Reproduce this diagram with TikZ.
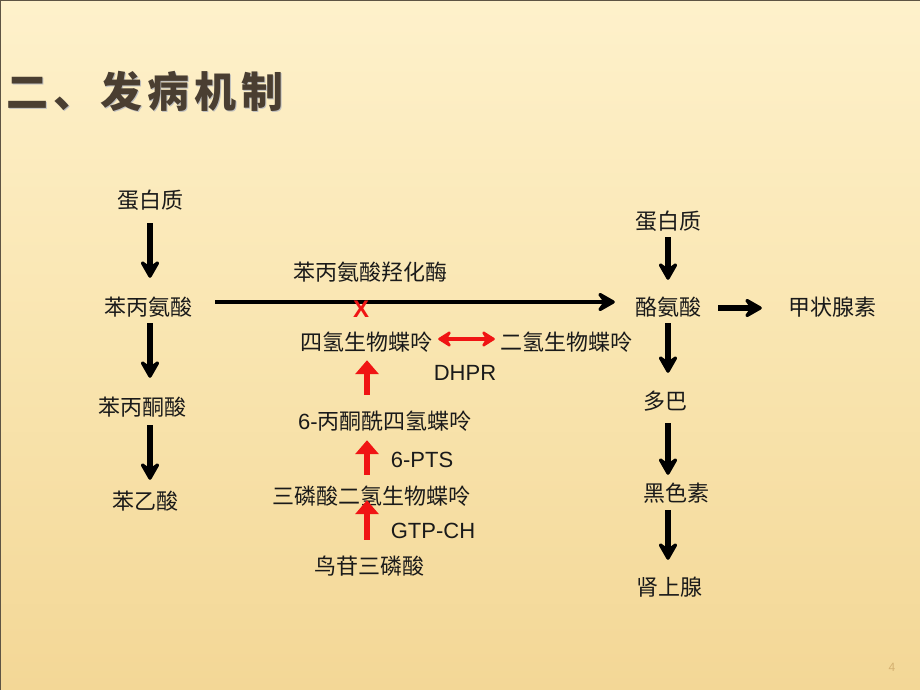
\documentclass[tikz,border=0pt]{standalone}
\usepackage{fontspec}
\usetikzlibrary{arrows.meta,calc}
\newfontfamily\cjk{Noto Sans CJK SC}
\newfontfamily\lat{Liberation Sans}
\definecolor{bgtop}{HTML}{FEF1CB}
\definecolor{bgmid}{HTML}{F9E5B0}
\definecolor{bgbot}{HTML}{F3D796}
\definecolor{titlec}{HTML}{4A3E31}
\definecolor{redc}{HTML}{F01414}
\definecolor{txtc}{HTML}{1A1A1A}
\definecolor{framec}{HTML}{5E5444}
\definecolor{pagec}{HTML}{D4B070}
\tikzset{
  lbl/.style={font=\cjk\fontsize{22}{22}\selectfont, text=txtc, inner sep=0pt, text height=18pt, text depth=4pt},
  latl/.style={font=\lat\fontsize{22}{22}\selectfont, text=txtc, inner sep=0pt, text height=16pt, text depth=0pt},
  chev/.tip={Stealth[length=22pt,width=25pt,inset=9pt,round]},
  chevs/.tip={Stealth[length=16pt,width=20pt,inset=6pt,round]},
  blkarrow/.style={draw=black, line width=5.5pt, -chev},
  longarrow/.style={draw=black, line width=4.5pt, -chev},
  redup/.style={draw=redc, line width=6pt, -{Triangle[length=14pt,width=23pt]}},
  reddbl/.style={draw=redc, line width=4.5pt, chevs-chevs}
}
\begin{document}
\begin{tikzpicture}[x=1pt,y=-1pt]
\useasboundingbox (0,0) rectangle (920,690);
\shade[top color=bgtop, bottom color=bgbot, middle color=bgmid] (0,0) rectangle (920,690);
\draw[framec, line width=2pt] (0,690) -- (0,0) -- (920,0);
\draw[framec!60, line width=1pt] (920,0) -- (920,690);

% title
\node[anchor=west, inner sep=0pt, text=gray!50, font=\cjk\bfseries\fontsize{42}{42}\selectfont] at (7.5,92.5) {二\kern5pt 、\kern5pt 发\kern5pt 病\kern5pt 机\kern5pt 制};
\node (title) [anchor=west, inner sep=0pt, text=titlec, font=\cjk\bfseries\fontsize{42}{42}\selectfont] at (6,91) {二\kern5pt 、\kern5pt 发\kern5pt 病\kern5pt 机\kern5pt 制};

% helper coordinates
\coordinate (lx) at (150,0);
\coordinate (rx) at (668,0);
\coordinate (mx) at (367,0);
\coordinate (hy) at (0,302);
\coordinate (dy) at (0,339);

% left column
\node[lbl] (p1) at (150,201) {蛋白质};
\node[lbl] (phe) at (148,308) {苯丙氨酸};
\node[lbl] (ppa) at (142,408) {苯丙酮酸};
\node[lbl] (paa) at (145,502) {苯乙酸};

\draw[blkarrow, shorten <=11pt, shorten >=19pt] (p1.south -| lx) -- (phe.north -| lx);
\draw[blkarrow, shorten <=4pt, shorten >=19pt] (phe.south -| lx) -- (ppa.north -| lx);
\draw[blkarrow, shorten <=6pt, shorten >=11pt] (ppa.south -| lx) -- (paa.north -| lx);

% right column
\node[lbl] (p2) at (668,222) {蛋白质};
\node[lbl] (tyr) at (668,308) {酪氨酸};
\node[lbl] (dopa) at (665,402) {多巴};
\node[lbl] (mel) at (676,494) {黑色素};
\node[lbl] (adr) at (669,588) {肾上腺};
\node[lbl] (thy) at (832,308) {甲状腺素};

\draw[blkarrow, shorten <=4pt, shorten >=17pt] (p2.south -| rx) -- (tyr.north -| rx);
\draw[blkarrow, shorten <=4pt, shorten >=18pt] (tyr.south -| rx) -- (dopa.north -| rx);
\draw[blkarrow, shorten <=10pt, shorten >=8pt] (dopa.south -| rx) -- (mel.north -| rx);
\draw[blkarrow, shorten <=5pt, shorten >=17pt] (mel.south -| rx) -- (adr.north -| rx);
\draw[blkarrow, shorten <=17pt, shorten >=26pt] (tyr.east) -- (thy.west);

% main horizontal arrow
\draw[longarrow, shorten <=23pt, shorten >=20pt] (phe.east |- hy) -- (tyr.west |- hy);
\node[lbl] (pah) at (370,273) {苯丙氨酸羟化酶};
\node (x) [inner sep=0pt, text=redc, font=\lat\bfseries\fontsize{24}{24}\selectfont] at (361,309) {X};

% middle column
\node[lbl] (bh4) at (366,343) {四氢生物蝶呤};
\node[lbl] (bh2) at (566,343) {二氢生物蝶呤};
\draw[reddbl, shorten <=6pt, shorten >=5pt] (bh4.east |- dy) -- (bh2.west |- dy);
\node[latl] (dhpr) at (465,372) {DHPR};

\node[lbl] (ptp) at (385,422) {{\lat 6-}丙酮酰四氢蝶呤};
\node[latl] (pts) at (422,459) {6-PTS};
\node[lbl] (tp) at (371,497) {三磷酸二氢生物蝶呤};
\node[latl] (gtpch) at (433,530) {GTP-CH};
\node[lbl] (gtp) at (369,567) {鸟苷三磷酸};

\draw[redup, shorten <=16pt, shorten >=6pt] (ptp.north -| mx) -- (bh4.south -| mx);
\draw[redup, shorten <=11pt, shorten >=7pt] (tp.north -| mx) -- (ptp.south -| mx);
\draw[redup, shorten <=16pt, shorten >=-8pt] (gtp.north -| mx) -- (tp.south -| mx);

% page number
\node (pg) [inner sep=0pt, text=pagec, font=\lat\fontsize{12}{12}\selectfont] at (892,667) {4};
\end{tikzpicture}
\end{document}
